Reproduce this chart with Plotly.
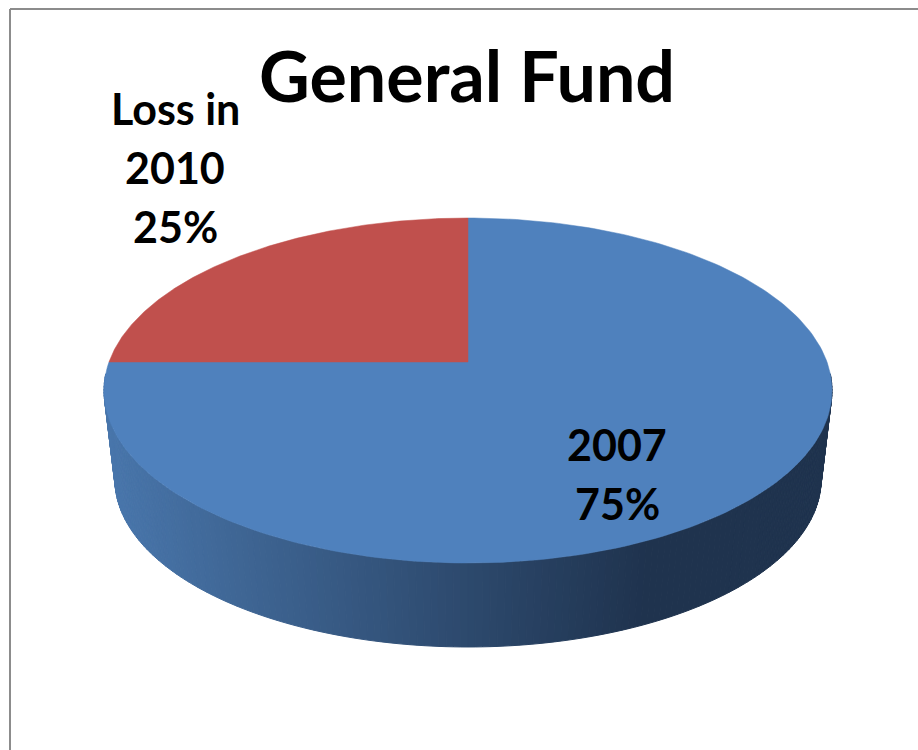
import numpy as np
import plotly.graph_objects as go

# --- data ---
title_text = "General Fund"
categories = ["2007", "Loss in 2010"]
values = [75, 25]
label_lines = [["2007", "75%"], ["Loss in", "2010", "25%"]]
top_colors = ["#4f81bd", "#c0504d"]

# --- pie projection (tilted disc seen in perspective, in page-pixel axis units) ---
CX, CY = 468.0, 362.0
R = 359.0
PERSP = 0.1652
Y_GAIN = -167.8
DEPTH = 90.0
BASE_SCALE = 0.97


def project(theta, scale=1.0, drop=0.0):
    u, v = np.cos(theta), np.sin(theta)
    w = 1 + PERSP * v
    return CX + scale * R * u / w, CY + drop + scale * Y_GAIN * v / w


def mix(t):
    a, b = np.array([73, 118, 171]), np.array([31, 51, 78])
    c = a + (b - a) * min(max(t, 0), 1)
    return "rgb(%d,%d,%d)" % tuple(c)


fig = go.Figure()

# side wall: thin strips with a horizontal shade ramp
edges = np.radians(np.linspace(184, 356, 173))
for a0, a1 in zip(edges[:-1], edges[1:]):
    x0, y0 = project(a0)
    x1, y1 = project(a1)
    x2, y2 = project(a1, BASE_SCALE, DEPTH)
    x3, y3 = project(a0, BASE_SCALE, DEPTH)
    col = mix(((x0 + x1) / 2 - 110) / 540)
    fig.add_trace(go.Scatter(x=[x0, x1, x2, x3, x0], y=[y0, y1, y2, y3, y0], mode="lines",
                             fill="toself", fillcolor=col, line=dict(color=col, width=1),
                             hoverinfo="skip", showlegend=False))

# top face, sweeping clockwise from 12 o'clock
start = np.pi / 2
total = sum(values)
for name, val, col in zip(categories, values, top_colors):
    sweep = 2 * np.pi * val / total
    th = np.linspace(start, start - sweep, 240)
    ex, ey = project(th)
    fig.add_trace(go.Scatter(x=np.r_[CX, ex, CX], y=np.r_[CY, ey, CY], mode="lines",
                             fill="toself", fillcolor=col, line=dict(color=col, width=0.5),
                             name=name, hoverinfo="name", showlegend=False))
    start -= sweep

ann = [dict(x=467, y=75, text=title_text, showarrow=False, xref="x", yref="y",
            font=dict(family="Lato", size=70, color="black", weight="bold"))]
positions = [(617, [444, 503]), (175, [108, 167, 226])]
for (px, pys), lines in zip(positions, label_lines):
    for py, line in zip(pys, lines):
        ann.append(dict(x=px, y=py, text=line, showarrow=False, xref="x", yref="y",
                        font=dict(family="Lato", size=43, color="black", weight="bold")))

fig.update_layout(
    width=918, height=750, margin=dict(l=0, r=0, t=0, b=0),
    paper_bgcolor="white", plot_bgcolor="white", showlegend=False,
    xaxis=dict(range=[0, 918], visible=False, fixedrange=True),
    yaxis=dict(range=[750, 0], visible=False, fixedrange=True),
    annotations=ann,
    shapes=[
        dict(type="line", xref="x", yref="y", x0=10, x1=10, y0=9, y1=750, line=dict(color="#8c8c8c", width=2)),
        dict(type="line", xref="x", yref="y", x0=10, x1=918, y0=9, y1=9, line=dict(color="#8c8c8c", width=2)),
    ],
)
fig.write_html("out.html", config=dict(displayModeBar=False),
               post_script="document.body.style.margin='0';")
